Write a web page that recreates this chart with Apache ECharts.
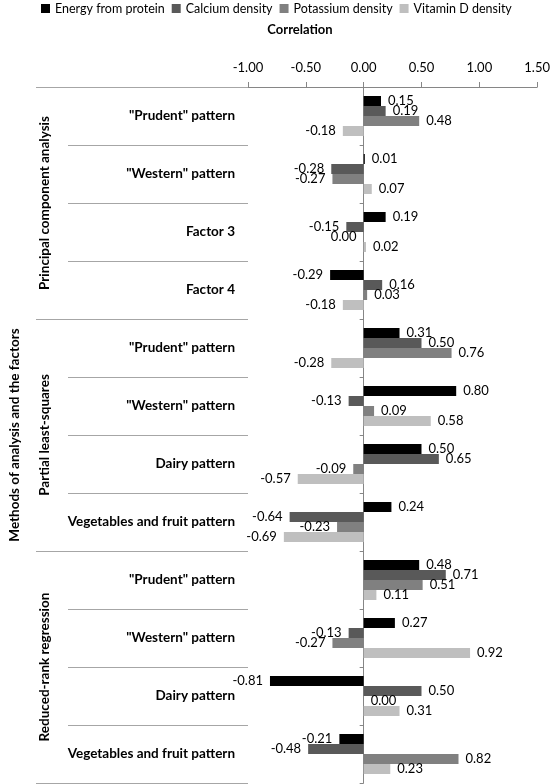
<!DOCTYPE html>
<html>
<head>
<meta charset="utf-8">
<script src="https://cdn.jsdelivr.net/npm/echarts@6/dist/echarts.min.js"></script>
<style>html,body{margin:0;padding:0;background:#fff}#c{width:553px;height:784px}</style>
</head>
<body>
<div id="c"></div>
<script>
const categories = [
  '"Prudent" pattern', '"Western" pattern', 'Factor 3', 'Factor 4',
  '"Prudent" pattern', '"Western" pattern', 'Dairy pattern', 'Vegetables and fruit pattern',
  '"Prudent" pattern', '"Western" pattern', 'Dairy pattern', 'Vegetables and fruit pattern'
];
const groups = ['Principal component analysis', 'Partial least-squares', 'Reduced-rank regression'];
const seriesNames = ['Energy from protein', 'Calcium density', 'Potassium density', 'Vitamin D density'];
const energy =    [0.15, 0.01, 0.19, -0.29, 0.31, 0.80, 0.50, 0.24, 0.48, 0.27, -0.81, -0.21];
const calcium =   [0.19, -0.28, -0.15, 0.16, 0.50, -0.13, 0.65, -0.64, 0.71, -0.13, 0.50, -0.48];
const potassium = [0.48, -0.27, -0.001, 0.03, 0.76, 0.09, -0.09, -0.23, 0.51, -0.27, 0.00, 0.82];
const vitaminD =  [-0.18, 0.07, 0.02, -0.18, -0.28, 0.58, -0.57, -0.69, 0.11, 0.92, 0.31, 0.23];
const xTicks = [-1.0, -0.5, 0.0, 0.5, 1.0, 1.5];

const FONT = 'Lato';
const colors = ['#000000', '#595959', '#808080', '#bfbfbf'];
const allValues = [energy, calcium, potassium, vitaminD];

function fmt(v) { return Math.abs(v) < 0.005 ? '0.00' : v.toFixed(2); }

const series = allValues.map((vals, i) => ({
  name: seriesNames[i],
  type: 'bar',
  yAxisIndex: 0,
  barGap: '0%',
  barCategoryGap: '31%',
  itemStyle: { color: colors[i] },
  data: vals.map(v => ({
    value: v,
    label: { position: v < 0 ? 'left' : 'right' }
  })),
  label: {
    show: true,
    distance: 7,
    color: '#000',
    fontFamily: FONT,
    fontSize: 13,
    formatter: p => fmt(p.value)
  }
}));

const chart = echarts.init(document.getElementById('c'), null, { renderer: 'canvas' });
chart.setOption({
  animation: false,
  textStyle: { fontFamily: FONT },
  title: {
    text: 'Correlation', left: 295, top: 18, textAlign: 'center',
    textStyle: { fontFamily: FONT, fontSize: 13, fontWeight: 'bold', color: '#000' }
  },
  legend: {
    data: seriesNames, left: 36, top: -3, icon: 'rect', itemWidth: 9, itemHeight: 9, itemGap: 7,
    textStyle: { fontFamily: FONT, fontSize: 12.5, color: '#000' }
  },
  grid: { left: 245, right: 14, top: 87, bottom: 1, containLabel: false },
  xAxis: {
    type: 'value', position: 'top', min: xTicks[0], max: xTicks[xTicks.length - 1], interval: 0.5,
    axisLine: { show: true, lineStyle: { color: '#868686' } },
    axisTick: { show: true, length: 5, lineStyle: { color: '#868686' } },
    splitLine: { show: false },
    axisLabel: { formatter: v => v.toFixed(2), fontFamily: FONT, fontSize: 13, color: '#000', margin: 13 }
  },
  yAxis: [
    {
      type: 'category', data: categories, inverse: true,
      axisLine: { show: true, onZero: true, lineStyle: { color: '#868686' } },
      axisTick: { show: true, length: 4, lineStyle: { color: '#868686' } },
      axisLabel: { show: false }
    },
    {
      type: 'category', data: categories, inverse: true, position: 'left',
      axisLine: { show: false, onZero: false },
      axisTick: { show: true, length: 180, lineStyle: { color: '#a6a6a6' } },
      axisLabel: { show: true, margin: 13, fontFamily: FONT, fontSize: 13.5, fontWeight: 'bold', color: '#000' }
    },
    {
      type: 'category', data: groups, inverse: true, position: 'left',
      axisLine: { show: false, onZero: false },
      axisTick: { show: true, length: 212, lineStyle: { color: '#a6a6a6' } },
      axisLabel: { show: true, rotate: 90, margin: 196, fontFamily: FONT, fontSize: 13.5, fontWeight: 'bold', color: '#000' },
      name: 'Methods of analysis and the factors', nameLocation: 'middle', nameRotate: 90, nameGap: 226,
      nameTextStyle: { fontFamily: FONT, fontSize: 13.5, fontWeight: 'bold', color: '#000' }
    }
  ],
  series: series
});
</script>
</body>
</html>
